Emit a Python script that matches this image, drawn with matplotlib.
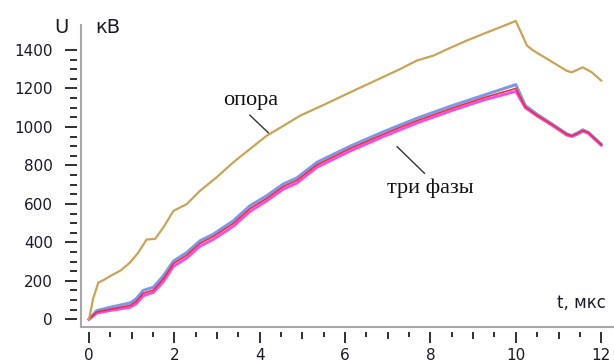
import matplotlib
matplotlib.use("Agg")
import matplotlib.pyplot as plt
from matplotlib.ticker import FixedLocator
import numpy as np

# ---- data ----
t_opora = [0, 0.1, 0.22, 0.35, 0.5, 0.75, 0.96, 1.15, 1.35, 1.55, 1.75, 1.98, 2.29, 2.6,
           3.0, 3.38, 3.77, 4.16, 4.55, 4.94, 5.5, 6.12, 6.7, 7.29, 7.68, 8.07, 8.45,
           8.85, 9.25, 9.63, 10.0, 10.26, 10.41, 10.8, 11.19, 11.31, 11.45, 11.57, 11.78, 12.0]
u_opora = [0, 110, 191, 205, 225, 255, 295, 345, 415, 418, 480, 564, 599, 668,
           740, 816, 885, 954, 1005, 1058, 1115, 1180, 1240, 1301, 1345, 1371, 1410,
           1449, 1485, 1518, 1551, 1423, 1397, 1345, 1292, 1284, 1298, 1310, 1284, 1241]

t_phase = [0, 0.18, 0.49, 0.96, 1.1, 1.27, 1.51, 1.74, 1.98, 2.29, 2.6, 2.91, 3.38, 3.77,
           4.16, 4.55, 4.87, 5.34, 6.12, 6.9, 7.29, 7.68, 8.5, 9.25, 10.0, 10.22, 10.49,
           10.85, 11.19, 11.31, 11.45, 11.57, 11.7, 12.0]
u_blue = [0, 45, 62, 85, 105, 150, 167, 225, 303, 347, 408, 442, 512, 590,
          642, 703, 735, 816, 900, 975, 1010, 1045, 1110, 1165, 1220, 1112, 1067,
          1015, 965, 955, 970, 985, 972, 911]
u_red = [0, 38, 52, 72, 92, 135, 152, 210, 290, 333, 395, 430, 498, 575,
         628, 690, 722, 803, 888, 962, 998, 1032, 1097, 1152, 1200, 1105, 1062,
         1012, 962, 953, 967, 982, 970, 908]
u_magenta = [0, 32, 45, 62, 80, 122, 140, 195, 275, 318, 380, 415, 483, 560,
             615, 676, 708, 790, 875, 950, 985, 1020, 1085, 1140, 1185, 1100, 1058,
             1008, 958, 950, 963, 978, 966, 905]

x_major = [0, 2, 4, 6, 8, 10, 12]
y_major = [0, 200, 400, 600, 800, 1000, 1200, 1400]

W, H = 614, 363
PX = 72 / 100  # points per pixel
fig = plt.figure(figsize=(W / 100, H / 100), dpi=100)
ax = fig.add_axes([81 / W, 36 / H, (W - 81) / W, (327 - 25) / H])

ax.plot(t_phase, u_blue, color="#7f98e6", lw=2.2, solid_joinstyle="round", clip_on=False)
ax.plot(t_phase, u_magenta, color="#f04cf0", lw=2.0, solid_joinstyle="round", clip_on=False)
ax.plot(t_phase, u_red, color="#ee3030", lw=1.2, solid_joinstyle="round", clip_on=False)
ax.plot(t_opora, u_opora, color="#c9a458", lw=1.6, solid_joinstyle="round", clip_on=False)

ax.set_xlim(-0.187, 12.30)
ax.set_ylim(-40, 1530)

# spines: hide real ones, move outward to create gap for ticks
for s in ["top", "right"]:
    ax.spines[s].set_visible(False)
ax.spines["left"].set_position(("outward", 4 * PX))
ax.spines["bottom"].set_position(("outward", 5 * PX))
ax.spines["left"].set_visible(False)
ax.spines["bottom"].set_visible(False)
ax.plot([0, 0], [0, 1], transform=ax.transAxes, color="#a8a8a8", lw=1.5, clip_on=False)
ax.plot([0, 1], [0, 0], transform=ax.transAxes, color="#a8a8a8", lw=1.5, clip_on=False)

ax.xaxis.set_major_locator(FixedLocator(x_major))
ax.yaxis.set_major_locator(FixedLocator(y_major))
x_minor = [v / 2 for v in range(1, 24) if v % 4 != 0]
y_minor = [v for v in range(50, 1400, 50) if v % 200 != 0]
ax.xaxis.set_minor_locator(FixedLocator(x_minor))
ax.yaxis.set_minor_locator(FixedLocator(y_minor))

ax.tick_params(axis="x", which="major", length=11 * PX, width=1.4, color="#303030",
               labelsize=11, pad=5.5 * PX, labelcolor="#1a1a2a")
ax.tick_params(axis="x", which="minor", length=4.5 * PX, width=1.4, color="#303030")
ax.tick_params(axis="y", which="major", length=12 * PX, width=1.4, color="#303030",
               labelsize=11, pad=12 * PX, labelcolor="#1a1a2a")
ax.tick_params(axis="y", which="minor", length=7 * PX, width=1.4, color="#303030")

for tk, loc in zip(ax.xaxis.get_minor_ticks(len(x_minor)), x_minor):
    if float(loc).is_integer():
        tk.tick1line.set_markersize(7 * PX)

# axis titles
fig.text(61 / W, 1 - 33 / H, "U", fontsize=14, ha="center", va="baseline", color="#1a1a2a")
fig.text(95 / W, 1 - 33 / H, "кВ", fontsize=14, ha="left", va="baseline", color="#1a1a2a")
fig.text(606 / W, 1 - 308 / H, "t, мкс", fontsize=12, ha="right", va="baseline", color="#1a1a2a")

# annotations
ax.text(3.79, 1113, "опора", fontsize=16, family="Liberation Serif", ha="center",
        va="baseline", color="#111111")
ax.plot([3.77, 4.20], [1061, 970], color="#333333", lw=1.0)
ax.text(8.0, 656, "три фазы", fontsize=16, family="Liberation Serif", ha="center",
        va="baseline", color="#111111")
ax.plot([7.22, 7.86], [897, 759], color="#333333", lw=1.0)

fig.savefig("out.png", dpi=100)
